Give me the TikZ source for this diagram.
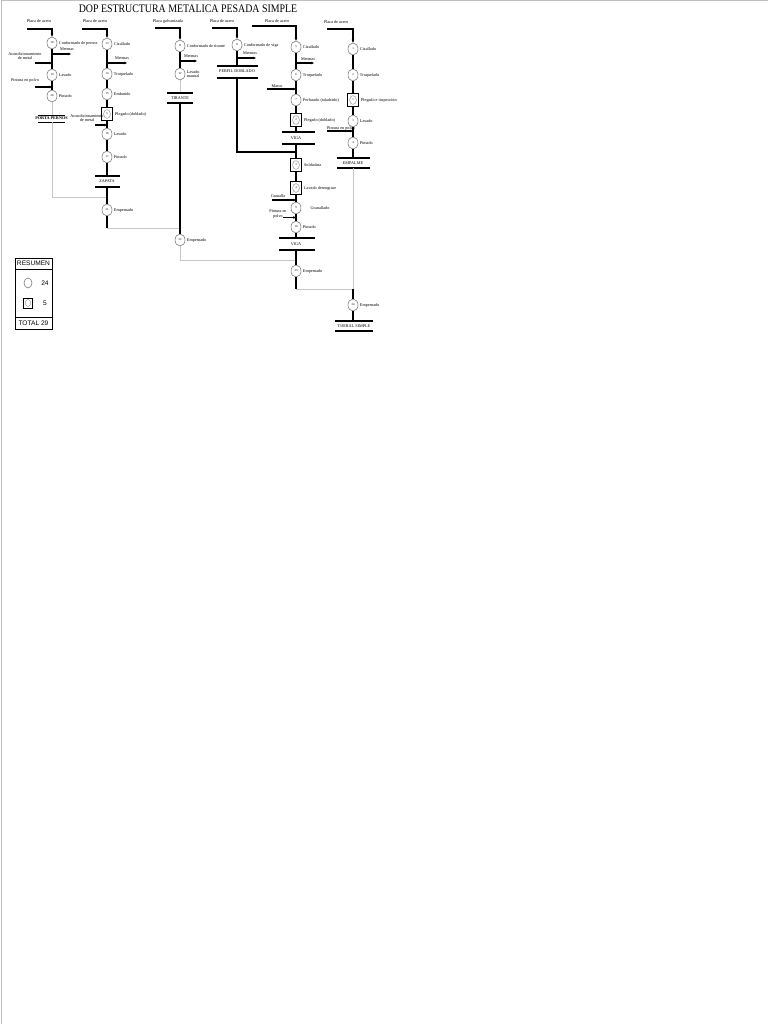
\documentclass[tikz,border=0pt]{standalone}
\usepackage{fontspec}
\setmainfont{Liberation Serif}
\setsansfont{Liberation Sans}
\usetikzlibrary{arrows.meta,shapes.geometric}
\newcommand\lblfont{\fontsize{4.2}{4.7}\selectfont}
\newcommand\numfont{\fontsize{3}{3}\selectfont}
\begin{document}
\begin{tikzpicture}[x=1pt,y=-1pt,
 op/.style={ellipse,draw=black!55,line width=0.5pt,fill=white,minimum width=10pt,minimum height=12pt,inner sep=0pt,font=\numfont},
 opsq/.style={rectangle,draw=black,line width=1.9pt,fill=white,minimum width=11pt,minimum height=13pt,inner sep=0pt,font=\numfont,
   path picture={\draw[line width=0.35pt,black!50] (path picture bounding box.center) ellipse [x radius=3.4pt,y radius=4.4pt];}},
 lbl/.style={font=\lblfont,inner sep=0.5pt},
 rl/.style={font=\lblfont,inner sep=0.5pt,anchor=west,align=left},
 ln/.style={line width=1.1pt,black},
 gl/.style={line width=0.9pt,black!22},
 arr/.style={-{Stealth[length=3pt,width=2.6pt]}},
 barl/.style={line width=1.3pt,black},
 sumtxt/.style={font=\sffamily\fontsize{6.6}{7}\selectfont,inner sep=0pt}
]
\useasboundingbox (0,0) rectangle (768,1024);
\fill[white] (0,0) rectangle (768,1024);
\draw[black!25,line width=1pt] (1,1024) -- (1,1) -- (768,1);

% title
\node[font=\fontsize{11.5}{13}\selectfont,inner sep=0pt,xscale=0.86] (title) at (188,9) {DOP ESTRUCTURA METALICA PESADA SIMPLE};

% ================= Column 1 (x=52)
\node[lbl] (t18) at (39,21) {Placa de acero};
\coordinate (s18) at (27,29);
\node[op] (c18) at (52,43) {18};
\node[rl] (l18) at ([xshift=1pt]c18.east) {Conformado de pernos};
\node[lbl] (tm18) at (67,49.5) {Mermas};
\coordinate (m18a) at (52,54); \coordinate (m18b) at (71,54);
\node[lbl,align=center] (ta18) at (25,56) {Acondicionamiento\\de metal};
\coordinate (a18a) at (35,63); \coordinate (a18b) at (52,63);
\node[op] (c19) at (52,75) {19};
\node[rl] (l19) at ([xshift=1pt]c19.east) {Lavado};
\node[lbl] (tp19) at (25,80.5) {Pintura en polvo};
\coordinate (p19a) at (35,87); \coordinate (p19b) at (52,87);
\node[op] (c20) at (52,96) {20};
\node[rl] (l20) at ([xshift=1pt]c20.east) {Pintado};
\node[lbl,font=\lblfont\bfseries] (porta) at (51.5,118.5) {PORTA PERNOS};
\coordinate (pb1a) at (38,115); \coordinate (pb1b) at (65,115);
\coordinate (pb2a) at (38,122); \coordinate (pb2b) at (65,122);
\coordinate (pt) at (52,115); \coordinate (pb) at (52,122);
\coordinate (j1) at (52,197); \coordinate (j1r) at (107,197);

\draw[ln,arr] (s18) -| (c18);
\draw[ln] (c18) -- (c19);
\draw[ln,arr] (m18a) -- (m18b);
\draw[ln,arr] (a18a) -- (a18b);
\draw[ln] (c19) -- (c20);
\draw[ln,arr] (p19a) -- (p19b);
\draw[gl] (c20) -- (pt);
\draw[line width=0.9pt] (pb1a) -- (pb1b);
\draw[line width=0.9pt] (pb2a) -- (pb2b);
\draw[gl] (pb) -- (j1) -- (j1r);

% ================= Column 2 (x=107)
\node[lbl] (t13) at (95,21) {Placa de acero};
\coordinate (s13) at (82,29);
\node[op] (c13) at (107,44) {13};
\node[rl] (l13) at ([xshift=1pt]c13.east) {Cizallado};
\node[lbl] (tm13) at (122,58.5) {Mermas};
\coordinate (m13a) at (107,63); \coordinate (m13b) at (127,63);
\node[op] (c14) at (107,74) {14};
\node[rl] (l14) at ([xshift=1pt]c14.east) {Troquelado};
\node[op] (c15) at (107,94) {15};
\node[rl] (l15) at ([xshift=1pt]c15.east) {Embutido};
\node[opsq] (q5) at (107,114) {5};
\node[rl] (lq5) at ([xshift=1pt]q5.east) {Plegado (doblado)};
\node[lbl,align=center] (ta5) at (87,118) {Acondicionamiento\\de metal};
\coordinate (a5a) at (95,125); \coordinate (a5b) at (107,125);
\node[op] (c16) at (107,134) {16};
\node[rl] (l16) at ([xshift=1pt]c16.east) {Lavado};
\node[op] (c17) at (107,157) {17};
\node[rl] (l17) at ([xshift=1pt]c17.east) {Pintado};
\coordinate (zb1a) at (95,176); \coordinate (zb1b) at (120,176);
\coordinate (zb2a) at (95,187); \coordinate (zb2b) at (120,187);
\coordinate (zt) at (107,176); \coordinate (zb) at (107,187);
\node[lbl] (zapata) at (107,181.5) {ZAPATA};
\node[op] (c21) at (107,210) {21};
\node[rl] (l21) at ([xshift=1pt]c21.east) {Empernado};
\coordinate (e21) at (107,228); \coordinate (j2) at (180,228);

\draw[ln,arr] (s13) -| (c13);
\draw[ln] (c13) -- (c14);
\draw[ln,arr] (m13a) -- (m13b);
\draw[ln] (c14) -- (c15);
\draw[ln] (c15) -- (q5);
\draw[ln] (q5) -- (c16);
\draw[ln,arr] (a5a) -- (a5b);
\draw[ln] (c16) -- (c17);
\draw[ln] (c17) -- (zt);
\draw[barl] (zb1a) -- (zb1b);
\draw[barl] (zb2a) -- (zb2b);
\draw[ln] (zb) -- (c21);
\draw[ln] (c21) -- (e21);
\draw[gl] (e21) -- (j2);

% ================= Column 3 (x=180)
\node[lbl] (t11) at (168,21) {Placa galvanizada};
\coordinate (s11) at (155,28);
\node[op] (c11) at (180,46) {11};
\node[rl] (l11) at ([xshift=1pt]c11.east) {Conformado de tirante};
\node[lbl] (tm11) at (191,56.5) {Mermas};
\coordinate (m11a) at (180,61); \coordinate (m11b) at (197,61);
\node[op] (c12) at (180,74) {12};
\node[rl] (l12) at ([xshift=1pt]c12.east) {Lavado\\manual};
\coordinate (tb1a) at (167,93); \coordinate (tb1b) at (193,93);
\coordinate (tb2a) at (167,103); \coordinate (tb2b) at (193,103);
\coordinate (tt) at (180,93); \coordinate (tb) at (180,103);
\node[lbl] (tirante) at (180,98) {TIRANTE};
\node[op] (c22) at (180,240) {22};
\node[rl] (l22) at ([xshift=1pt]c22.east) {Empernado};
\coordinate (e22) at (180,260); \coordinate (j3) at (296,260);

\draw[ln,arr] (s11) -| (c11);
\draw[ln] (c11) -- (c12);
\draw[ln,arr] (m11a) -- (m11b);
\draw[gl] (c12) -- (tt);
\draw[barl] (tb1a) -- (tb1b);
\draw[barl] (tb2a) -- (tb2b);
\draw[ln] (tb) -- (c22);
\draw[gl] (c22) -- (e22) -- (j3);

% ================= Column 4 (x=237)
\node[lbl] (t8) at (222,21) {Placa de acero};
\coordinate (s8) at (212,28);
\node[op] (c8) at (237,45) {8};
\node[rl] (l8) at ([xshift=1pt]c8.east) {Conformado de viga};
\node[lbl] (tm8) at (250,53) {Mermas};
\coordinate (m8a) at (237,58); \coordinate (m8b) at (256,58);
\coordinate (fb1a) at (217,66); \coordinate (fb1b) at (258,66);
\coordinate (fb2a) at (217,78); \coordinate (fb2b) at (258,78);
\coordinate (ft) at (237,66); \coordinate (fb) at (237,78);
\node[lbl] (perfil) at (237,71) {PERFIL DOBLADO};
\coordinate (k4) at (237,152); \coordinate (j4) at (296,152);

\draw[ln,arr] (s8) -| (c8);
\draw[ln] (c8) -- (ft);
\draw[ln,arr] (m8a) -- (m8b);
\draw[barl] (fb1a) -- (fb1b);
\draw[barl] (fb2a) -- (fb2b);
\draw[ln] (fb) -- (k4) -- (j4);

% ================= Column 5 (x=296)
\node[lbl] (t5) at (277,21) {Placa de acero};
\coordinate (s5) at (252,26);
\node[op] (c5) at (296,47) {5};
\node[rl] (l5) at ([xshift=1pt]c5.east) {Cizallado};
\node[lbl] (tm5) at (308,59) {Mermas};
\coordinate (m5a) at (296,63); \coordinate (m5b) at (314,63);
\node[op] (c6) at (296,75) {6};
\node[rl] (l6) at ([xshift=1pt]c6.east) {Troquelado};
\node[lbl] (tmarco) at (277,86) {Marco};
\coordinate (mk5a) at (267,89); \coordinate (mk5b) at (296,89);
\node[op] (c7) at (296,100) {7};
\node[rl] (l7) at ([xshift=1pt]c7.east) {Perforado (taladrado)};
\node[opsq] (q2) at (296,120) {2};
\node[rl] (lq2) at ([xshift=1pt]q2.east) {Plegado (doblado)};
\coordinate (vb1a) at (282,132); \coordinate (vb1b) at (315,132);
\coordinate (vb2a) at (282,144); \coordinate (vb2b) at (315,144);
\coordinate (vt) at (296,132); \coordinate (vb) at (296,144);
\node[lbl] (viga1) at (296,138) {VIGA};
\node[opsq] (q3) at (296,165) {3};
\node[rl] (lq3) at ([xshift=1pt]q3.east) {Soldadura};
\node[opsq] (q4) at (296,188) {4};
\node[rl] (lq4) at ([xshift=1pt]q4.east) {Lavado desengrase};
\node[lbl] (tgr) at (278,196.5) {Granalla};
\coordinate (g9a) at (272,200); \coordinate (g9b) at (296,200);
\node[op] (c9) at (296,208) {9};
\node[rl] (l9) at (310,208) {Granallado};
\node[lbl,align=center] (tp10) at (278,214) {Pintura en\\polvo};
\coordinate (p10a) at (283,217.5); \coordinate (p10b) at (296,217.5);
\node[op] (c10) at (296,227) {10};
\node[rl] (l10) at ([xshift=1pt]c10.east) {Pintado};
\coordinate (wb1a) at (279,238); \coordinate (wb1b) at (315,238);
\coordinate (wb2a) at (279,250); \coordinate (wb2b) at (315,250);
\coordinate (wt) at (296,238); \coordinate (wb) at (296,250);
\node[lbl] (viga2) at (296,244) {VIGA};
\node[op] (c23) at (296,271) {23};
\node[rl] (l23) at ([xshift=1pt]c23.east) {Empernado};
\coordinate (e23) at (296,289); \coordinate (j5) at (353,289);

\draw[ln,arr] (s5) -| (c5);
\draw[ln] (c5) -- (c6);
\draw[ln,arr] (m5a) -- (m5b);
\draw[ln] (c6) -- (c7);
\draw[ln,arr] (mk5a) -- (mk5b);
\draw[ln] (c7) -- (q2);
\draw[ln] (q2) -- (vt);
\draw[barl] (vb1a) -- (vb1b);
\draw[barl] (vb2a) -- (vb2b);
\draw[ln] (vb) -- (q3);
\draw[ln] (q3) -- (q4);
\draw[ln] (q4) -- (c9);
\draw[ln,arr] (g9a) -- (g9b);
\draw[ln] (c9) -- (c10);
\draw[ln,arr] (p10a) -- (p10b);
\draw[ln] (c10) -- (wt);
\draw[barl] (wb1a) -- (wb1b);
\draw[barl] (wb2a) -- (wb2b);
\draw[ln] (wb) -- (c23);
\draw[ln] (c23) -- (e23);
\draw[gl] (e23) -- (j5);

% ================= Column 6 (x=353)
\node[lbl] (t1) at (336,22) {Placa de acero};
\coordinate (s1) at (327,29);
\node[op] (c1) at (353,49) {1};
\node[rl] (l1) at ([xshift=1pt]c1.east) {Cizallado};
\node[op] (c2) at (353,75) {2};
\node[rl] (l2) at ([xshift=1pt]c2.east) {Troquelado};
\node[opsq] (q1) at (353,100) {1};
\node[rl] (lq1) at ([xshift=1pt]q1.east) {Plegado e inspección};
\node[op] (c3) at (353,121) {3};
\node[rl] (l3) at ([xshift=1pt]c3.east) {Lavado};
\node[lbl] (tp4) at (341,128) {Pintura en polvo};
\coordinate (p4a) at (327,131); \coordinate (p4b) at (353,131);
\node[op] (c4) at (353,143) {4};
\node[rl] (l4) at ([xshift=1pt]c4.east) {Pintado};
\coordinate (eb1a) at (337,158); \coordinate (eb1b) at (370,158);
\coordinate (eb2a) at (337,168); \coordinate (eb2b) at (370,168);
\coordinate (et) at (353,158); \coordinate (eb) at (353,168);
\node[lbl] (empalme) at (353,163) {EMPALME};
\node[op] (c24) at (353,305) {24};
\node[rl] (l24) at ([xshift=1pt]c24.east) {Empernado};
\coordinate (kb1a) at (335,321); \coordinate (kb1b) at (373,321);
\coordinate (kb2a) at (335,331); \coordinate (kb2b) at (373,331);
\coordinate (kt) at (353,321);
\node[lbl] (tijeral) at (354,326) {TIJERAL SIMPLE};

\draw[ln,arr] (s1) -| (c1);
\draw[ln] (c1) -- (c2);
\draw[ln] (c2) -- (q1);
\draw[ln] (q1) -- (c3);
\draw[ln,arr] (p4a) -- (p4b);
\draw[ln] (c3) -- (c4);
\draw[ln] (c4) -- (et);
\draw[barl] (eb1a) -- (eb1b);
\draw[barl] (eb2a) -- (eb2b);
\draw[gl] (eb) -- (j5);
\draw[ln] (j5) -- (c24);
\draw[ln] (c24) -- (kt);
\draw[barl] (kb1a) -- (kb1b);
\draw[barl] (kb2a) -- (kb2b);

% ================= Summary box
\node[draw=black,line width=0.8pt,minimum width=37pt,minimum height=71pt,inner sep=0pt] (sumbox) at (33.5,293.5) {};
\coordinate (d1a) at (15,269); \coordinate (d1b) at (52,269);
\coordinate (d2a) at (15,317); \coordinate (d2b) at (52,317);
\draw[line width=0.8pt] (d1a) -- (d1b);
\draw[line width=0.8pt] (d2a) -- (d2b);
\node[sumtxt] (resumen) at (33.5,263.5) {RESUMEN};
\node[ellipse,draw=black!55,line width=0.5pt,minimum width=8pt,minimum height=10pt,inner sep=0pt] (sc) at (28,283) {};
\node[sumtxt] (n24) at (45,283) {24};
\node[rectangle,draw=black,line width=0.9pt,minimum width=9pt,minimum height=10pt,inner sep=0pt,
   path picture={\draw[line width=0.35pt,black!50] (path picture bounding box.center) ellipse [x radius=2.8pt,y radius=3.5pt];}] (ss) at (28,303) {};
\node[sumtxt] (n5) at (45,303) {5};
\node[sumtxt] (total) at (33.5,323) {TOTAL 29};
\end{tikzpicture}
\end{document}
